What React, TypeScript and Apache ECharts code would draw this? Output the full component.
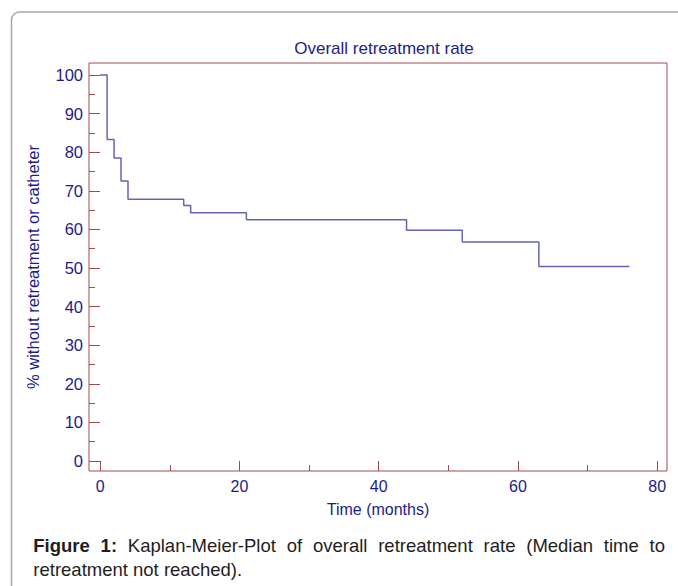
import React, { useEffect, useRef } from "react";
import * as echarts from "echarts";

const titleText = "Overall retreatment rate";
const xAxisName = "Time (months)";
const yAxisName = "% without retreatment or catheter";

// Kaplan-Meier steps: time (months) and % without retreatment
const times = [0, 1, 2, 3, 4, 12, 13, 21, 44, 52, 63, 76];
const survival = [100, 83.3, 78.5, 72.5, 67.8, 66.2, 64.3, 62.5, 59.8, 56.7, 50.4, 50.4];

const xMajorTicks = [0, 20, 40, 60, 80];
const xMinorTicks = [10, 30, 50, 70];
const yMajorTicks = [0, 10, 20, 30, 40, 50, 60, 70, 80, 90, 100];
const yMinorTicks = [5, 15, 25, 35, 45, 55, 65, 75, 85, 95];

const captionLine1 = [
  { t: "Figure", b: true },
  { t: "1:", b: true },
  { t: "Kaplan-Meier-Plot", b: false },
  { t: "of", b: false },
  { t: "overall", b: false },
  { t: "retreatment", b: false },
  { t: "rate", b: false },
  { t: "(Median", b: false },
  { t: "time", b: false },
  { t: "to", b: false },
];
const captionLine2 = "retreatment not reached).";

const FONT = "'Liberation Sans', Arial, Helvetica, sans-serif";
const NAVY = "#1c1c8a";
const FRAME = "#a24a4a";
const CURVE = "#6464b4";
const CAP_SIZE = 18.5;

export default function App() {
  const ref = useRef<HTMLDivElement>(null);

  useEffect(() => {
    if (!ref.current) return;
    const chart = echarts.init(ref.current, undefined, { renderer: "svg" });

    // measure caption words to justify line 1
    const canvas = document.createElement("canvas");
    const ctx = canvas.getContext("2d")!;
    const widths = captionLine1.map((w) => {
      ctx.font = `${w.b ? "bold " : ""}${CAP_SIZE}px 'Liberation Sans', Arial, sans-serif`;
      return ctx.measureText(w.t).width;
    });
    const capLeft = 33.3;
    const capRight = 665;
    const total = widths.reduce((a, b) => a + b, 0);
    const gap = (capRight - capLeft - total) / (captionLine1.length - 1);
    let cx = capLeft;
    const line1Mid = 545;
    const line2Mid = 569;
    const captionEls: any[] = captionLine1.map((w, i) => {
      const el = {
        type: "text",
        x: cx,
        y: line1Mid,
        style: {
          text: w.t,
          fontFamily: FONT,
          fontSize: CAP_SIZE,
          fontWeight: w.b ? "bold" : "normal",
          fill: "#1e1e1e",
          align: "left",
          verticalAlign: "middle",
        },
      };
      cx += widths[i] + gap;
      return el;
    });
    captionEls.push({
      type: "text",
      x: capLeft,
      y: line2Mid,
      style: {
        text: captionLine2,
        fontFamily: FONT,
        fontSize: CAP_SIZE,
        fill: "#1e1e1e",
        align: "left",
        verticalAlign: "middle",
      },
    });

    const tickLine = { color: FRAME, width: 1 };

    chart.setOption({
      animation: false,
      backgroundColor: "#ffffff",
      title: {
        text: titleText,
        left: 379,
        top: 35,
        textAlign: "center",
        textStyle: { fontFamily: FONT, fontSize: 17, fontWeight: "normal", color: NAVY },
      },
      grid: {
        left: 89,
        top: 63,
        width: 578,
        height: 408,
        show: true,
        borderColor: FRAME,
        borderWidth: 1,
        backgroundColor: "transparent",
        containLabel: false,
      },
      xAxis: [
        {
          type: "value",
          min: -1.6,
          max: 81.4,
          position: "bottom",
          name: xAxisName,
          nameLocation: "middle",
          nameGap: 30,
          nameTextStyle: { fontFamily: FONT, fontSize: 16, color: NAVY },
          axisLine: { show: false, onZero: false },
          splitLine: { show: false },
          axisTick: { show: true, inside: true, length: 10, customValues: xMajorTicks, lineStyle: tickLine },
          axisLabel: { customValues: xMajorTicks, fontFamily: FONT, fontSize: 16, color: NAVY, margin: 7 },
        },
        {
          type: "value",
          min: -1.6,
          max: 81.4,
          position: "bottom",
          axisLine: { show: false, onZero: false },
          splitLine: { show: false },
          axisTick: { show: true, inside: true, length: 6, customValues: xMinorTicks, lineStyle: tickLine },
          axisLabel: { show: false, customValues: xMinorTicks },
        },
      ],
      yAxis: [
        {
          type: "value",
          min: -2.6,
          max: 103.1,
          position: "left",
          name: yAxisName,
          nameLocation: "middle",
          nameGap: 48,
          nameTextStyle: { fontFamily: FONT, fontSize: 16.5, color: NAVY },
          axisLine: { show: false, onZero: false },
          splitLine: { show: false },
          axisTick: { show: true, inside: true, length: 11, customValues: yMajorTicks, lineStyle: tickLine },
          axisLabel: { customValues: yMajorTicks, fontFamily: FONT, fontSize: 16.5, color: NAVY, margin: 6 },
        },
        {
          type: "value",
          min: -2.6,
          max: 103.1,
          position: "left",
          axisLine: { show: false, onZero: false },
          splitLine: { show: false },
          axisTick: { show: true, inside: true, length: 6, customValues: yMinorTicks, lineStyle: tickLine },
          axisLabel: { show: false, customValues: yMinorTicks },
        },
      ],
      series: [
        {
          type: "line",
          step: "end",
          xAxisIndex: 0,
          yAxisIndex: 0,
          data: times.map((t, i) => [t, survival[i]]),
          symbol: "none",
          lineStyle: { color: CURVE, width: 1.5 },
          z: 3,
        },
      ],
      graphic: [
        {
          type: "rect",
          shape: { x: 11.5, y: 12, width: 720, height: 700, r: 8 },
          style: { fill: "none", stroke: "#a8a8a8", lineWidth: 1.5 },
          z: -1,
        },
        ...captionEls,
      ],
    });

    return () => chart.dispose();
  }, []);

  return (
    <div
      ref={ref}
      style={{ position: "absolute", left: 0, top: 0, width: 678, height: 586 }}
    />
  );
}
